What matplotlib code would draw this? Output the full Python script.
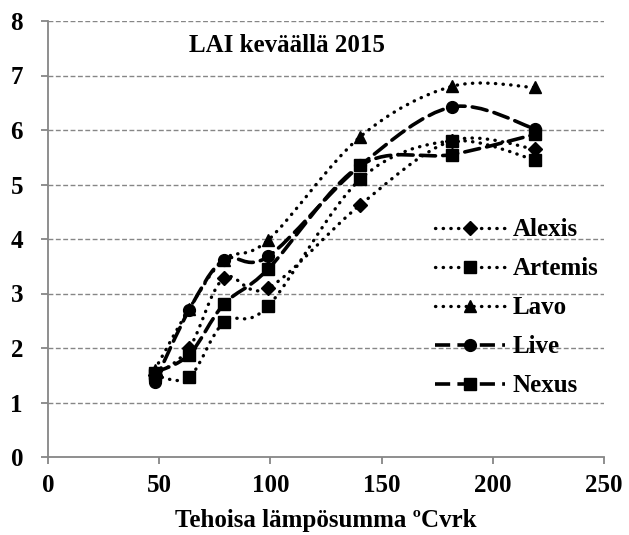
import matplotlib
matplotlib.use("Agg")
import matplotlib.pyplot as plt
from matplotlib.path import Path
from matplotlib.patches import PathPatch
from matplotlib.lines import Line2D

plt.rcParams['font.family'] = ['Liberation Serif', 'DejaVu Serif']
plt.rcParams['font.weight'] = 'bold'

# effective temperature sum (x) and LAI per variety
temp_sum = [48, 63.5, 79, 99, 140.5, 181.5, 219]
alexis = [1.5, 2.0, 3.28, 3.1, 4.63, 5.8, 5.65]
artemis = [1.5, 1.47, 2.47, 2.77, 5.1, 5.8, 5.45]
lavo = [1.6, 2.72, 3.62, 3.98, 5.88, 6.8, 6.78]
live = [1.38, 2.7, 3.62, 3.68, 5.35, 6.42, 6.02]
nexus = [1.55, 1.88, 2.8, 3.45, 5.35, 5.55, 5.92]

names = ['Alexis', 'Artemis', 'Lavo', 'Live', 'Nexus']
series = [alexis, artemis, lavo, live, nexus]
markers = ['D', 's', '^', 'o', 's']
msizes = [7, 8.5, 8.5, 8.5, 9]
dotted = (0, (0.1, 2.2))
dashed = (0, (4.2, 2.0))
styles = [dotted, dotted, dotted, dashed, dashed]


def smooth_path(xs, ys):
    # Catmull-Rom style bezier like Excel's "smoothed line"
    pts = list(zip(xs, ys))
    verts = [pts[0]]
    codes = [Path.MOVETO]
    n = len(pts)
    for i in range(n - 1):
        p0 = pts[i - 1] if i > 0 else pts[i]
        p1 = pts[i]
        p2 = pts[i + 1]
        p3 = pts[i + 2] if i + 2 < n else pts[i + 1]
        c1 = (p1[0] + (p2[0] - p0[0]) / 6, p1[1] + (p2[1] - p0[1]) / 6)
        c2 = (p2[0] - (p3[0] - p1[0]) / 6, p2[1] - (p3[1] - p1[1]) / 6)
        verts += [c1, c2, p2]
        codes += [Path.CURVE4] * 3
    return Path(verts, codes)


fig = plt.figure(figsize=(6.29, 5.35), dpi=100)
ax = fig.add_axes([48 / 629, 1 - 457 / 535, 556 / 629, 436 / 535])

gray = '#868686'
for yv in range(1, 9):
    ax.axhline(yv, color=gray, lw=1.0, ls=(0, (3.5, 1.8)), zorder=0)

handles = []
for name, ys, m, ms, ls in zip(names, series, markers, msizes, styles):
    lw = 2.4 if ls is dotted else 2.6
    patch = PathPatch(smooth_path(temp_sum, ys), fill=False, lw=lw, ls=ls,
                      edgecolor='black', capstyle='round', zorder=2)
    ax.add_patch(patch)
    ax.plot(temp_sum, ys, ls='none', marker=m, ms=ms, color='black', zorder=3)
    h = Line2D([], [], color='black', lw=lw, ls=ls, marker=m, ms=ms,
               dash_capstyle='round' if ls is dotted else 'butt')
    handles.append(h)

ax.set_xlim(0, 250)
ax.set_ylim(0, 8)
ax.set_xticks([0, 50, 100, 150, 200, 250])
ax.set_yticks(range(0, 9))
for s in ['top', 'right']:
    ax.spines[s].set_visible(False)
for s in ['left', 'bottom']:
    ax.spines[s].set_color(gray)
    ax.spines[s].set_linewidth(1.3)
ax.tick_params(axis='both', colors=gray, length=5, width=1.3, labelsize=18,
               labelcolor='black')
ax.tick_params(axis='y', pad=13)
ax.tick_params(axis='x', pad=7)

ax.set_xlabel('Tehoisa lämpösumma ºCvrk', fontsize=18, fontweight='bold',
              labelpad=9)
fig.text(287 / 629, 1 - 45 / 535, 'LAI keväällä 2015', fontsize=18,
         fontweight='bold', ha='center', va='center')

ax.legend(handles, names, loc='center left', bbox_to_anchor=(0.696, 0.342),
          frameon=False, fontsize=18, handlelength=2.8, handletextpad=0.3,
          labelspacing=0.64, borderpad=0, borderaxespad=0)

fig.savefig('out.png', dpi=100)
